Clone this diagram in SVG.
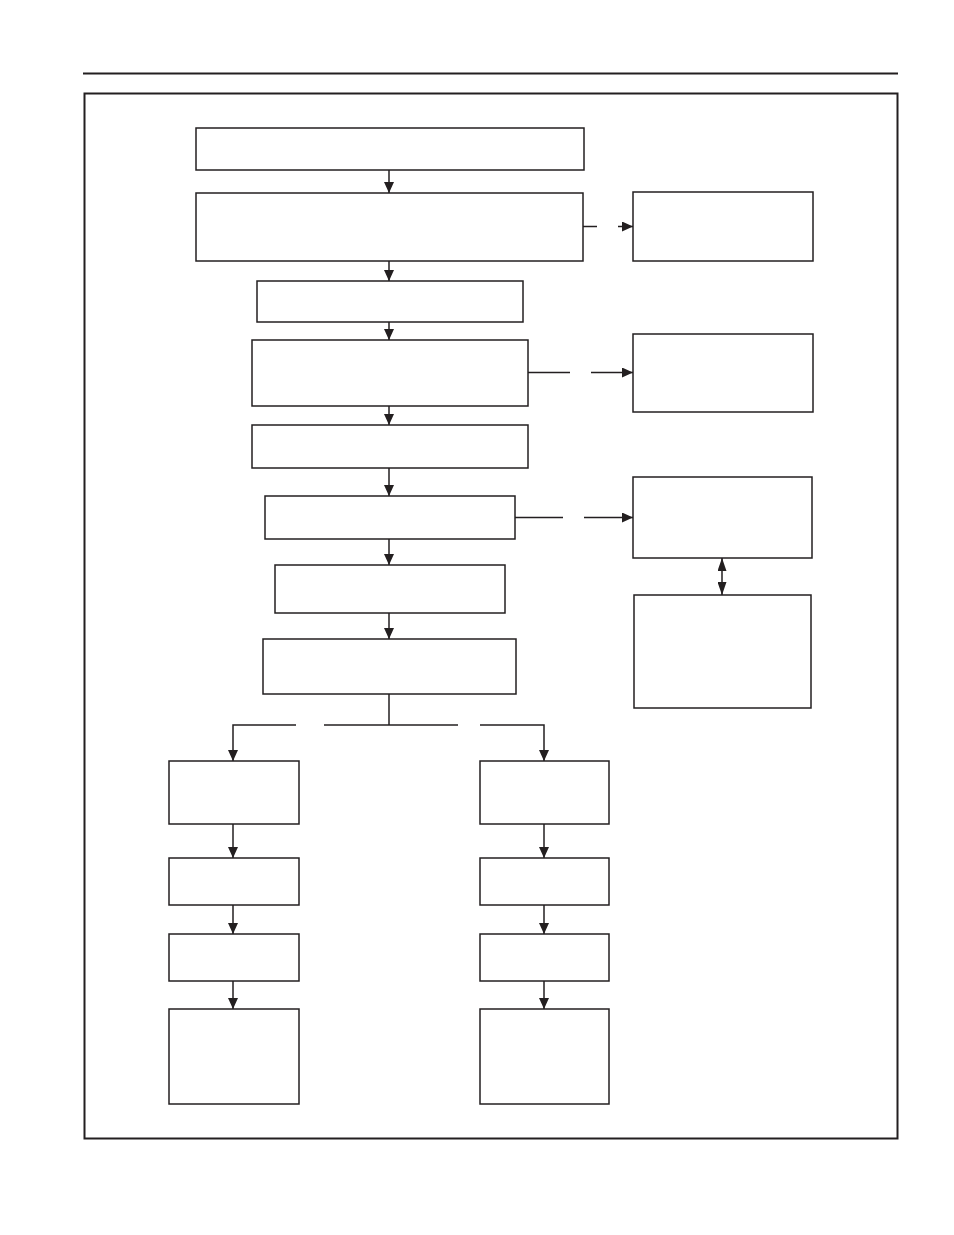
<svg xmlns="http://www.w3.org/2000/svg" width="954" height="1235" viewBox="0 0 954 1235">
<defs>
<style>
.box{fill:#fff;stroke:#231f20;stroke-width:1.5}
.ln{fill:none;stroke:#231f20;stroke-width:1.5}
</style>
<marker id="ah" viewBox="0 0 10 10" refX="10" refY="5" markerWidth="11" markerHeight="10" markerUnits="userSpaceOnUse" orient="auto-start-reverse" preserveAspectRatio="none">
<path d="M0,0 L10,5 L0,10 Z" fill="#231f20"/>
</marker>
<marker id="ah2" viewBox="0 0 10 10" refX="10" refY="5" markerWidth="13" markerHeight="9" markerUnits="userSpaceOnUse" orient="auto-start-reverse" preserveAspectRatio="none">
<path d="M0,0 L10,5 L0,10 Z" fill="#231f20"/>
</marker>
</defs>
<rect width="954" height="1235" fill="#fff"/>
<line x1="83" y1="73.5" x2="898" y2="73.5" stroke="#231f20" stroke-width="2"/>
<rect x="84.5" y="93.5" width="813" height="1045" fill="none" stroke="#231f20" stroke-width="2"/>
<g id="n1"><rect class="box" x="196" y="128" width="388" height="42"/></g>
<g id="n2"><rect class="box" x="196" y="193" width="387" height="68"/></g>
<g id="n3"><rect class="box" x="257" y="281" width="266" height="41"/></g>
<g id="n4"><rect class="box" x="252" y="340" width="276" height="66"/></g>
<g id="n5"><rect class="box" x="252" y="425" width="276" height="43"/></g>
<g id="n6"><rect class="box" x="265" y="496" width="250" height="43"/></g>
<g id="n7"><rect class="box" x="275" y="565" width="230" height="48"/></g>
<g id="n8"><rect class="box" x="263" y="639" width="253" height="55"/></g>
<g id="r1"><rect class="box" x="633" y="192" width="180" height="69"/></g>
<g id="r2"><rect class="box" x="633" y="334" width="180" height="78"/></g>
<g id="r3"><rect class="box" x="633" y="477" width="179" height="81"/></g>
<g id="r4"><rect class="box" x="634" y="595" width="177" height="113"/></g>
<g id="l1"><rect class="box" x="169" y="761" width="130" height="63"/></g>
<g id="l2"><rect class="box" x="169" y="858" width="130" height="47"/></g>
<g id="l3"><rect class="box" x="169" y="934" width="130" height="47"/></g>
<g id="l4"><rect class="box" x="169" y="1009" width="130" height="95"/></g>
<g id="m1"><rect class="box" x="480" y="761" width="129" height="63"/></g>
<g id="m2"><rect class="box" x="480" y="858" width="129" height="47"/></g>
<g id="m3"><rect class="box" x="480" y="934" width="129" height="47"/></g>
<g id="m4"><rect class="box" x="480" y="1009" width="129" height="95"/></g>
<g id="connectors">
<line class="ln" x1="389" y1="170" x2="389" y2="193" marker-end="url(#ah)"/>
<line class="ln" x1="389" y1="261" x2="389" y2="281" marker-end="url(#ah)"/>
<line class="ln" x1="389" y1="322" x2="389" y2="340" marker-end="url(#ah)"/>
<line class="ln" x1="389" y1="406" x2="389" y2="425" marker-end="url(#ah)"/>
<line class="ln" x1="389" y1="468" x2="389" y2="496" marker-end="url(#ah)"/>
<line class="ln" x1="389" y1="539" x2="389" y2="565" marker-end="url(#ah)"/>
<line class="ln" x1="389" y1="613" x2="389" y2="639" marker-end="url(#ah)"/>
<line class="ln" x1="583" y1="226.5" x2="597" y2="226.5"/>
<line class="ln" x1="618" y1="226.5" x2="633" y2="226.5" marker-end="url(#ah)"/>
<line class="ln" x1="528" y1="372.5" x2="570" y2="372.5"/>
<line class="ln" x1="591" y1="372.5" x2="633" y2="372.5" marker-end="url(#ah)"/>
<line class="ln" x1="515" y1="517.5" x2="563" y2="517.5"/>
<line class="ln" x1="584" y1="517.5" x2="633" y2="517.5" marker-end="url(#ah)"/>
<line class="ln" x1="722" y1="558" x2="722" y2="595" marker-start="url(#ah2)" marker-end="url(#ah2)"/>
<line class="ln" x1="389" y1="694" x2="389" y2="725"/>
<path class="ln" d="M296,725 H233 V761" marker-end="url(#ah)"/>
<line class="ln" x1="324" y1="725" x2="458" y2="725"/>
<path class="ln" d="M480,725 H544 V761" marker-end="url(#ah)"/>
<line class="ln" x1="233" y1="824" x2="233" y2="858" marker-end="url(#ah)"/>
<line class="ln" x1="233" y1="905" x2="233" y2="934" marker-end="url(#ah)"/>
<line class="ln" x1="233" y1="981" x2="233" y2="1009" marker-end="url(#ah)"/>
<line class="ln" x1="544" y1="824" x2="544" y2="858" marker-end="url(#ah)"/>
<line class="ln" x1="544" y1="905" x2="544" y2="934" marker-end="url(#ah)"/>
<line class="ln" x1="544" y1="981" x2="544" y2="1009" marker-end="url(#ah)"/>
</g>
</svg>
